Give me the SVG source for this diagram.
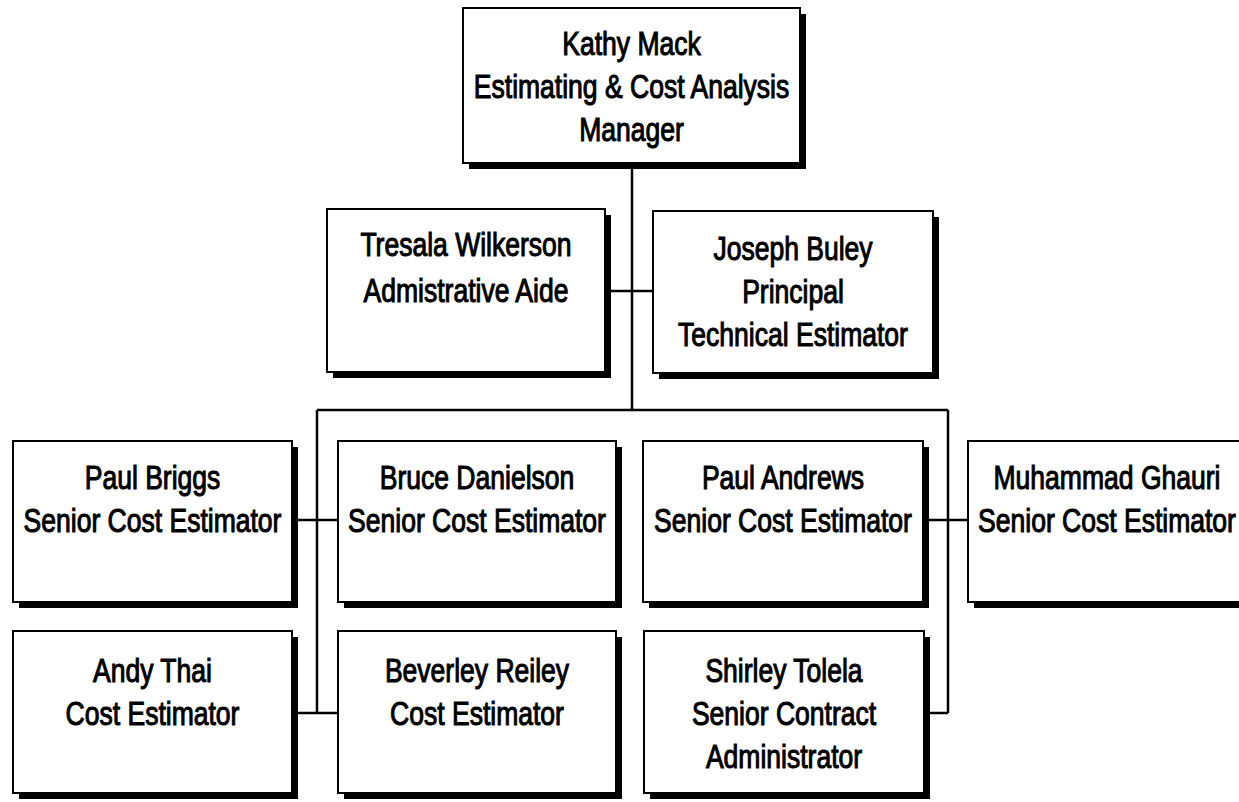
<svg xmlns="http://www.w3.org/2000/svg" width="1239" height="802" viewBox="0 0 1239 802">
<style>
.sh{fill:#000}
.bx{fill:#fff;stroke:#000;stroke-width:2}
.t{font-family:"Liberation Sans",Arial,sans-serif;font-size:34px;fill:#000;stroke:#000;stroke-width:1.1;text-anchor:middle}
.c{fill:none;stroke:#000;stroke-width:2.5}
</style>
<rect width="1239" height="802" fill="#fff"/>
<g id="connectors">
<path class="c" d="M632 163V410M605 291H653M317 410H948M317 410V713M948 410V713M292 520H338M292 713H338M923 520H968M924 713H948"/>
</g>
<g id="kathy-mack">
<rect class="sh" x="469" y="14" width="337" height="155"/>
<rect class="bx" x="463" y="8" width="337" height="155"/>
<text class="t" transform="translate(631.5,55) scale(0.78,1)"><tspan x="0">Kathy Mack</tspan><tspan x="0" dy="43">Estimating &amp; Cost Analysis</tspan><tspan x="0" dy="43">Manager</tspan></text>
</g>
<g id="tresala-wilkerson">
<rect class="sh" x="333" y="215" width="278" height="163"/>
<rect class="bx" x="327" y="209" width="278" height="163"/>
<text class="t" transform="translate(466,256) scale(0.78,1)"><tspan x="0">Tresala Wilkerson</tspan><tspan x="0" dy="46">Admistrative Aide</tspan></text>
</g>
<g id="joseph-buley">
<rect class="sh" x="659" y="217" width="280" height="162"/>
<rect class="bx" x="653" y="211" width="280" height="162"/>
<text class="t" transform="translate(793,260) scale(0.78,1)"><tspan x="0">Joseph Buley</tspan><tspan x="0" dy="43">Principal</tspan><tspan x="0" dy="43">Technical Estimator</tspan></text>
</g>
<g id="paul-briggs">
<rect class="sh" x="19" y="447" width="279" height="161"/>
<rect class="bx" x="13" y="441" width="279" height="161"/>
<text class="t" transform="translate(152.5,489) scale(0.78,1)"><tspan x="0">Paul Briggs</tspan><tspan x="0" dy="43">Senior Cost Estimator</tspan></text>
</g>
<g id="bruce-danielson">
<rect class="sh" x="344" y="447" width="278" height="161"/>
<rect class="bx" x="338" y="441" width="278" height="161"/>
<text class="t" transform="translate(477,489) scale(0.78,1)"><tspan x="0">Bruce Danielson</tspan><tspan x="0" dy="43">Senior Cost Estimator</tspan></text>
</g>
<g id="paul-andrews">
<rect class="sh" x="649" y="447" width="280" height="161"/>
<rect class="bx" x="643" y="441" width="280" height="161"/>
<text class="t" transform="translate(783,489) scale(0.78,1)"><tspan x="0">Paul Andrews</tspan><tspan x="0" dy="43">Senior Cost Estimator</tspan></text>
</g>
<g id="muhammad-ghauri">
<rect class="sh" x="974" y="447" width="278" height="161"/>
<rect class="bx" x="968" y="441" width="278" height="161"/>
<text class="t" transform="translate(1107,489) scale(0.78,1)"><tspan x="0">Muhammad Ghauri</tspan><tspan x="0" dy="43">Senior Cost Estimator</tspan></text>
</g>
<g id="andy-thai">
<rect class="sh" x="19" y="637" width="279" height="162"/>
<rect class="bx" x="13" y="631" width="279" height="162"/>
<text class="t" transform="translate(152.5,682) scale(0.78,1)"><tspan x="0">Andy Thai</tspan><tspan x="0" dy="43">Cost Estimator</tspan></text>
</g>
<g id="beverley-reiley">
<rect class="sh" x="344" y="637" width="278" height="162"/>
<rect class="bx" x="338" y="631" width="278" height="162"/>
<text class="t" transform="translate(477,682) scale(0.78,1)"><tspan x="0">Beverley Reiley</tspan><tspan x="0" dy="43">Cost Estimator</tspan></text>
</g>
<g id="shirley-tolela">
<rect class="sh" x="650" y="637" width="280" height="162"/>
<rect class="bx" x="644" y="631" width="280" height="162"/>
<text class="t" transform="translate(784,682) scale(0.78,1)"><tspan x="0">Shirley Tolela</tspan><tspan x="0" dy="43">Senior Contract</tspan><tspan x="0" dy="43">Administrator</tspan></text>
</g>
</svg>
